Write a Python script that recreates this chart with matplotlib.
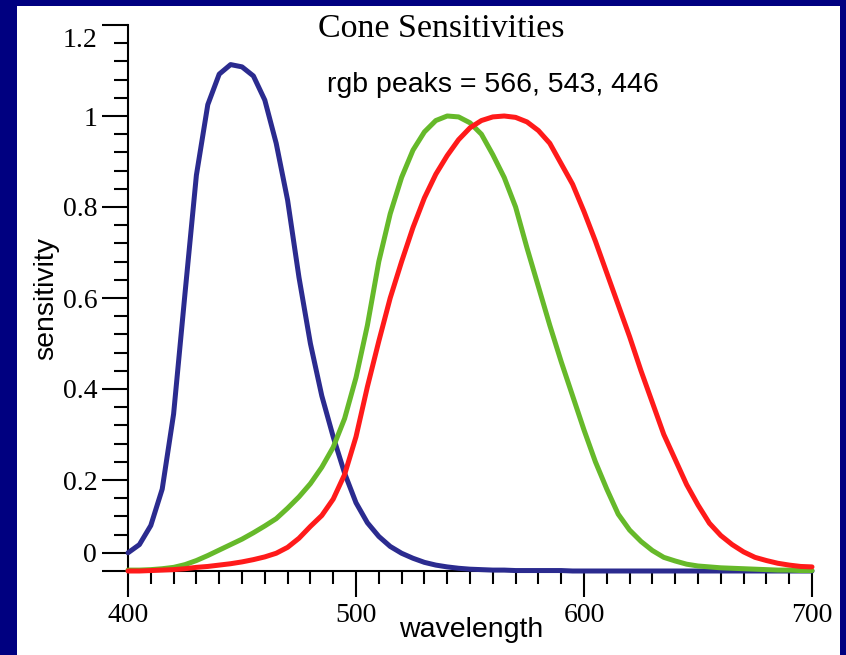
'''
Cone sensitivity curves, redrawn from the lecture slide
'''
import matplotlib.pyplot as plt
from matplotlib.patches import Rectangle
from matplotlib.ticker import FixedLocator, MultipleLocator

# wavelength grid (nm), every 5 nm
wavelength = [400, 405, 410, 415, 420, 425, 430, 435, 440, 445,
              450, 455, 460, 465, 470, 475, 480, 485, 490, 495,
              500, 505, 510, 515, 520, 525, 530, 535, 540, 545,
              550, 555, 560, 565, 570, 575, 580, 585, 590, 595,
              600, 605, 610, 615, 620, 625, 630, 635, 640, 645,
              650, 655, 660, 665, 670, 675, 680, 685, 690, 695, 700]

# S cone (blue)
s_cone = [0.040, 0.058, 0.100, 0.180, 0.345, 0.610, 0.870, 1.025, 1.092, 1.113,
          1.108, 1.088, 1.035, 0.940, 0.815, 0.645, 0.500, 0.385, 0.295, 0.215,
          0.150, 0.106, 0.076, 0.054, 0.039, 0.028, 0.019, 0.013, 0.009, 0.006,
          0.004, 0.003, 0.002, 0.002, 0.001, 0.001, 0.001, 0.001, 0.001, 0.0,
          0.0, 0.0, 0.0, 0.0, 0.0, 0.0, 0.0, 0.0, 0.0, 0.0,
          0.0, 0.0, 0.0, 0.0, 0.0, 0.0, 0.0, 0.0, 0.0, 0.0, 0.0]

# M cone (green)
m_cone = [0.002, 0.002, 0.003, 0.005, 0.008, 0.014, 0.023, 0.034, 0.046, 0.058,
          0.070, 0.084, 0.099, 0.115, 0.138, 0.163, 0.192, 0.228, 0.272, 0.335,
          0.425, 0.540, 0.680, 0.785, 0.865, 0.925, 0.965, 0.990, 1.000, 0.998,
          0.985, 0.960, 0.915, 0.865, 0.800, 0.710, 0.625, 0.540, 0.460, 0.385,
          0.310, 0.240, 0.180, 0.125, 0.090, 0.065, 0.045, 0.030, 0.022, 0.015,
          0.011, 0.009, 0.007, 0.006, 0.005, 0.004, 0.003, 0.002, 0.002, 0.001, 0.001]

# L cone (red)
l_cone = [0.000, 0.000, 0.001, 0.002, 0.003, 0.005, 0.008, 0.010, 0.013, 0.016,
          0.020, 0.025, 0.031, 0.039, 0.052, 0.072, 0.098, 0.122, 0.158, 0.212,
          0.295, 0.405, 0.505, 0.600, 0.680, 0.755, 0.820, 0.872, 0.913, 0.948,
          0.974, 0.990, 0.998, 1.000, 0.997, 0.987, 0.968, 0.940, 0.895, 0.850,
          0.790, 0.725, 0.655, 0.585, 0.515, 0.440, 0.370, 0.300, 0.245, 0.190,
          0.145, 0.105, 0.078, 0.058, 0.042, 0.030, 0.023, 0.017, 0.013, 0.010, 0.009]

x_major = [400, 500, 600, 700]
y_major = [0, 0.04, 0.2, 0.4, 0.6, 0.8, 1.0, 1.2]
y_labels = ['', '0', '0.2', '0.4', '0.6', '0.8', '1', '']

title = 'Cone Sensitivities'
subtitle = 'rgb peaks = 566, 543, 446'

serif = 'Liberation Serif'
sans = 'Liberation Sans'

W, H = 846, 655
fig = plt.figure(figsize=(W / 100, H / 100), dpi=100, facecolor='#000080')

# white slide panel inside the navy frame
fig.patches.append(Rectangle((17 / W, 0), (840 - 17) / W, 1 - 6 / H,
                             transform=fig.transFigure, facecolor='white',
                             edgecolor='none', zorder=0))

ax = fig.add_axes([128 / W, 1 - 571 / H, (812 - 128) / W, (571 - 25) / H])
ax.set_facecolor('none')
ax.set_zorder(2)

line_kw = dict(lw=3.6, clip_on=False, zorder=3,
               solid_joinstyle='round', solid_capstyle='round')
ax.plot(wavelength, s_cone, color='#2b2b8f', **line_kw)
ax.plot(wavelength, m_cone, color='#66b92a', **line_kw)
ax.plot(wavelength, l_cone, color='#ff1a1a', **line_kw)

ax.set_xlim(400, 700)
ax.set_ylim(0, 1.2)

for side in ['top', 'right']:
    ax.spines[side].set_visible(False)
for side in ['left', 'bottom']:
    ax.spines[side].set_linewidth(1.5)

ax.xaxis.set_major_locator(FixedLocator(x_major))
ax.xaxis.set_minor_locator(MultipleLocator(10))
ax.yaxis.set_major_locator(FixedLocator(y_major))
ax.yaxis.set_minor_locator(MultipleLocator(0.04))
ax.set_yticklabels(y_labels)

ax.tick_params(axis='x', which='major', direction='out', length=18.7, width=1.5, pad=4.5)
ax.tick_params(axis='x', which='minor', direction='out', length=9.4, width=1.5)
ax.tick_params(axis='y', which='major', direction='out', length=18.7, width=1.5, pad=3.5)
ax.tick_params(axis='y', which='minor', direction='out', length=10, width=1.5)

for lbl in ax.get_xticklabels() + ax.get_yticklabels():
    lbl.set_fontfamily(serif)
    lbl.set_fontsize(20)

# top label sits below its tick, as on the slide
ax.annotate('1.2', xy=(0, 1.2), xycoords=('axes fraction', 'data'),
            xytext=(-31, -3), textcoords='offset pixels',
            ha='right', va='top', fontfamily=serif, fontsize=20)

fig.text(441 / W, 1 - 37 / H, title, ha='center', va='baseline',
         fontfamily=serif, fontsize=24.5)
fig.text(493 / W, 1 - 92 / H, subtitle, ha='center', va='baseline',
         fontfamily=sans, fontsize=20.5)
fig.text(471 / W, 1 - 637 / H, 'wavelength', ha='center', va='baseline',
         fontfamily=sans, fontsize=20.5)
fig.text(46 / W, 1 - 298 / H, 'sensitivity', ha='center', va='center',
         rotation=90, fontfamily=sans, fontsize=20.5)

plt.savefig('out.png', dpi=100, facecolor=fig.get_facecolor())
